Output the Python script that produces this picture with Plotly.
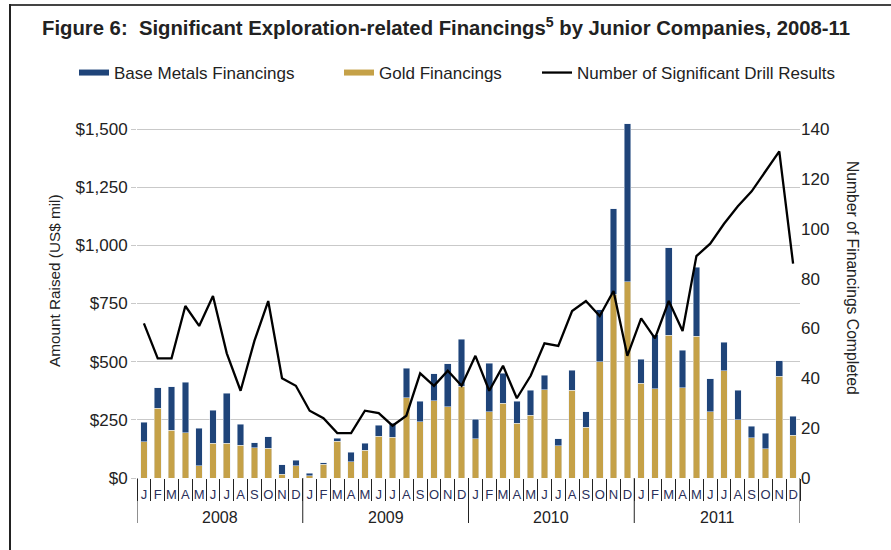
import plotly.graph_objects as go

years = ["2008", "2009", "2010", "2011"]
month_letters = ["J", "F", "M", "A", "M", "J", "J", "A", "S", "O", "N", "D"]

gold = [156, 299, 205, 195, 52, 149, 149, 140, 129, 127, 17, 52,
        9, 60, 159, 69, 120, 180, 175, 345, 241, 331, 306, 395,
        168, 284, 321, 235, 269, 379, 139, 378, 219, 500, 790, 843,
        407, 384, 614, 387, 610, 284, 461, 251, 173, 126, 437, 183]
base = [83, 88, 187, 216, 161, 143, 215, 92, 23, 51, 40, 25,
        11, 6, 11, 41, 29, 46, 60, 126, 88, 117, 185, 202,
        85, 210, 129, 94, 109, 62, 30, 86, 66, 223, 367, 680,
        103, 231, 375, 163, 295, 143, 122, 127, 50, 66, 67, 83]
drill = [62, 48, 48, 69, 61, 73, 50, 35, 55, 71, 40, 37,
         27, 24, 18, 18, 27, 26, 21, 25, 42, 37, 43, 37,
         49, 35, 45, 32, 41, 54, 53, 67, 71, 65, 75, 49,
         64, 56, 71, 59, 89, 94, 102, 109, 115, 123, 131, 86]

left_ticks = [0, 250, 500, 750, 1000, 1250, 1500]
left_labels = ["$0", "$250", "$500", "$750", "$1,000", "$1,250", "$1,500"]
right_ticks = [0, 20, 40, 60, 80, 100, 120, 140]

n_m = len(month_letters)
idx = list(range(len(years) * n_m))
month_text = [month_letters[i % n_m] for i in idx]

BLUE = "#1f4479"
GOLD = "#c5a148"
SANS = "Liberation Sans, Arial, sans-serif"

W, H = 891, 550
L, R, B = 137, 91, 72
scale = 349 / 1500          # px per $ (1500 sits 349 px above the baseline)
T = 119
ph = H - B - T
pw = W - L - R
ymax = ph / scale
y2max = ymax * 140 / 1500

def px(xp):
    return (xp - L) / pw

def py(yp):
    return (H - B - yp) / ph

fig = go.Figure()
fig.add_trace(go.Bar(x=idx, y=gold, marker_color=GOLD, name="Gold Financings",
                     showlegend=False))
fig.add_trace(go.Bar(x=idx, y=base, marker_color=BLUE, name="Base Metals Financings",
                     showlegend=False))
fig.add_trace(go.Scatter(x=idx, y=drill, mode="lines", yaxis="y2",
                         line=dict(color="black", width=2.3),
                         name="Number of Significant Drill Results",
                         legend="legend3"))
# legend entries drawn as wide bars
fig.add_trace(go.Scatter(x=[None], y=[None], mode="lines",
                         line=dict(color=BLUE, width=6), name="Base Metals Financings",
                         legend="legend"))
fig.add_trace(go.Scatter(x=[None], y=[None], mode="lines",
                         line=dict(color=GOLD, width=6), name="Gold Financings",
                         legend="legend2"))

legend_common = dict(orientation="h", xref="container", yref="container",
                     yanchor="middle", font=dict(family=SANS, size=17, color="#222"),
                     bgcolor="rgba(0,0,0,0)", itemwidth=30)

annotations = [
    dict(text="Amount Raised (US$ mil)", xref="paper", yref="paper",
         x=px(54), y=py(281), textangle=-90, showarrow=False,
         xanchor="center", yanchor="middle",
         font=dict(family=SANS, size=15.3, color="#222")),
    dict(text="Number of Financings Completed", xref="paper", yref="paper",
         x=px(853), y=py(278), textangle=90, showarrow=False,
         xanchor="center", yanchor="middle",
         font=dict(family=SANS, size=15.7, color="#222")),
]
shapes = [
    dict(type="line", xref="paper", yref="paper", x0=px(10), x1=px(W + 5),
         y0=py(5), y1=py(5), line=dict(color="#444", width=2)),
    dict(type="line", xref="paper", yref="paper", x0=px(10), x1=px(10),
         y0=py(4), y1=py(H + 5), line=dict(color="#222", width=2)),
]
for k, yr in enumerate(years):
    annotations.append(dict(text=yr, xref="x", yref="paper",
                            x=k * n_m + (n_m - 1) / 2, y=py(517),
                            showarrow=False, xanchor="center", yanchor="middle",
                            font=dict(family=SANS, size=16, color="#222")))
for k in range(len(years) + 1):
    shapes.append(dict(type="line", xref="x", yref="paper",
                       x0=k * n_m - 0.5, x1=k * n_m - 0.5, y0=py(478), y1=py(523),
                       line=dict(color="#222", width=1)))

fig.update_layout(
    width=W, height=H,
    margin=dict(l=L, r=R, t=T, b=B),
    paper_bgcolor="white", plot_bgcolor="white",
    barmode="stack", bargap=0.52,
    title=dict(text="Figure 6:&nbsp; Significant Exploration-related Financings<sup>5</sup> by Junior Companies, 2008-11",
               xref="container", yref="container", x=42 / W, xanchor="left",
               y=1 - 28 / H, yanchor="middle",
               font=dict(family=SANS, size=20.3, color="#222", weight="bold")),
    legend=dict(**legend_common, x=74 / W, y=1 - 73 / H),
    legend2=dict(**legend_common, x=339 / W, y=1 - 73 / H),
    legend3=dict(**legend_common, x=537 / W, y=1 - 73 / H),
    xaxis=dict(range=[-0.5, len(idx) - 0.5], tickmode="array", tickvals=idx,
               ticktext=month_text, tickangle=0, ticks="", ticklabelstandoff=7,
               minor=dict(tickmode="array", tickvals=[i - 0.5 for i in idx] + [len(idx) - 0.5],
                          ticks="outside", ticklen=22, tickcolor="#222", tickwidth=1,
                          showgrid=False),
               showgrid=False, showline=False, zeroline=False,
               tickfont=dict(family=SANS, size=13, color="#2a2f5a")),
    yaxis=dict(range=[0, ymax], tickvals=left_ticks, ticktext=left_labels,
               showgrid=True, gridcolor="#c9c9c9", gridwidth=1,
               zeroline=False, ticks="outside", ticklen=5, tickcolor="#c9c9c9",
               tickfont=dict(family=SANS, size=17, color="#222")),
    yaxis2=dict(range=[0, y2max], tickvals=right_ticks, overlaying="y", side="right",
                showgrid=False, zeroline=False, ticks="", ticklen=0,
                tickfont=dict(family=SANS, size=17, color="#222")),
    annotations=annotations,
    shapes=shapes,
)

fig.write_html("out.html", config={"displayModeBar": False},
               post_script="document.body.style.margin='0px';")
